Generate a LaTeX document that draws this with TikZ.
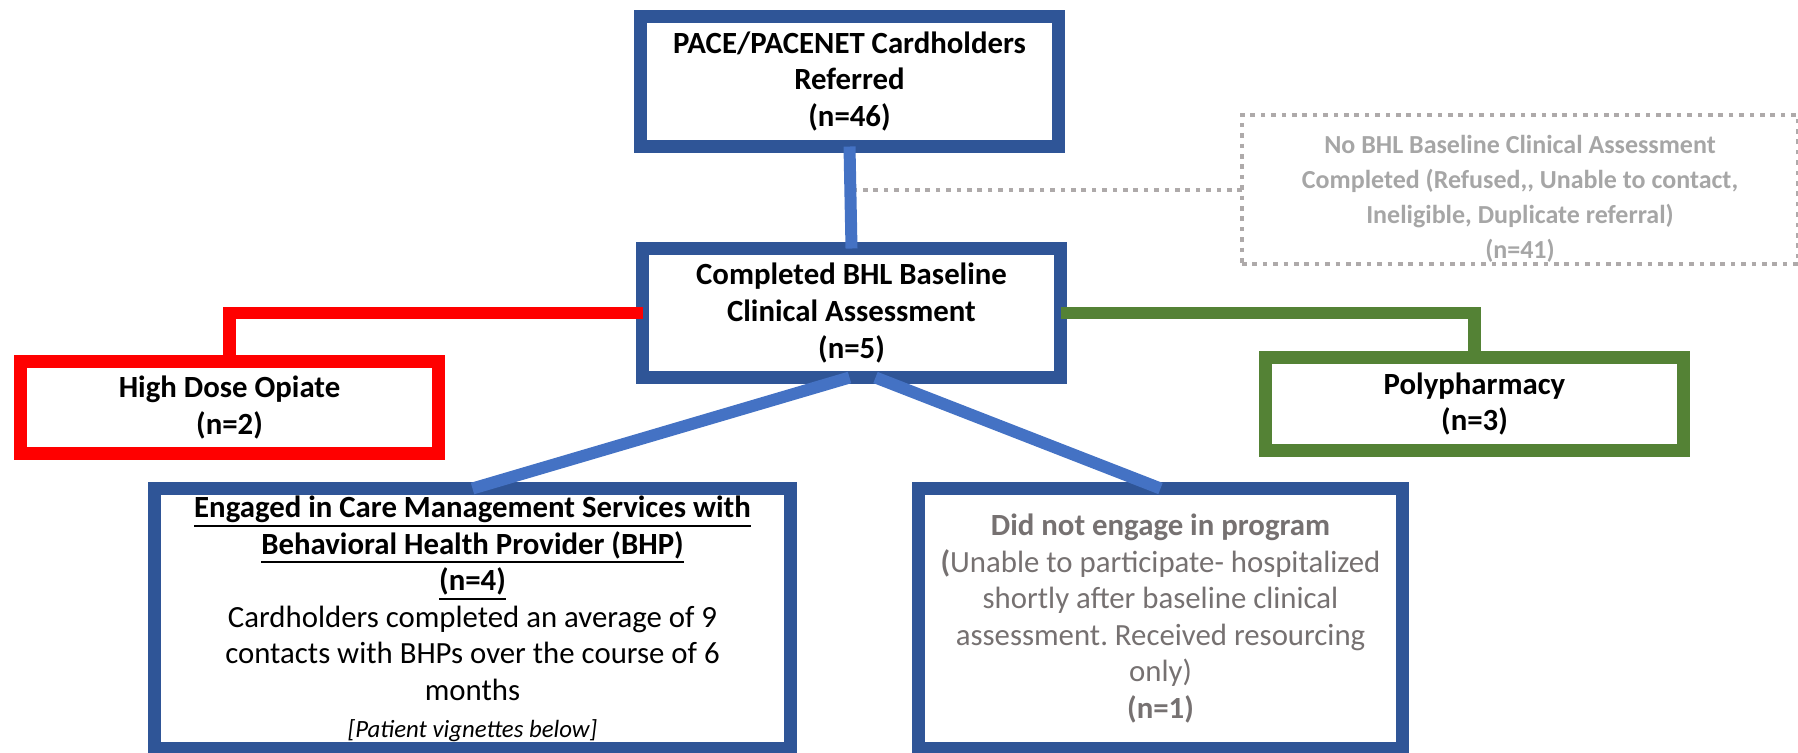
\documentclass[tikz,border=0pt]{standalone}
\usepackage{fontspec}
\setmainfont{Carlito}
\frenchspacing
\usetikzlibrary{
  calc,
  positioning
}
\definecolor{boxblue}{RGB}{47,85,151}
\definecolor{linkblue}{RGB}{68,114,196}
\definecolor{opiatered}{RGB}{255,0,0}
\definecolor{polygreen}{RGB}{84,130,53}
\definecolor{dotgray}{RGB}{174,170,170}
\definecolor{softtext}{RGB}{166,166,166}
\definecolor{greytext}{RGB}{118,113,113}
\newcommand{\ulbox}[1]{\setbox0=\hbox{#1}\vtop{\copy0\kern1.2pt\hrule height 1.2pt}}
\tikzset{
  stagebox/.style={
    draw=boxblue,
    line width=6.5pt,
    fill=white,
    align=center,
    outer sep=0pt,
    inner sep=0pt,
    minimum width=209pt,
    font=\fontsize{15.4}{18.3}\selectfont\bfseries
  },
  red box/.style={stagebox,draw=opiatered,minimum height=46pt},
  green box/.style={stagebox,draw=polygreen,minimum height=46.5pt},
  wide box/.style={stagebox,minimum height=130pt,font=\fontsize{15.4}{18.3}\selectfont},
  dotted box/.style={
    draw=dotgray,
    line width=2pt,
    dash pattern=on 2.3pt off 2.9pt,
    align=center,
    outer sep=0pt,
    inner sep=0pt,
    text=softtext,
    font=\fontsize{13}{17.5}\selectfont\bfseries
  },
  link/.style={line width=6pt,draw=linkblue},
  red link/.style={line width=6.3pt,draw=opiatered},
  green link/.style={line width=6.3pt,draw=polygreen},
  dotted link/.style={line width=2pt,draw=dotgray,dash pattern=on 2.3pt off 2.9pt}
}

\begin{document}
\begin{tikzpicture}[x=0.5pt,y=-0.5pt]
  \clip (0,0) rectangle (1798,752);

  \node[stagebox,minimum height=65pt] (referred) at (849.5,81.5)
    {PACE/PACENET Cardholders\\Referred\\(n=46)};
  \node[stagebox,minimum height=64.5pt] (completed) at (851.5,313)
    {Completed BHL Baseline\\Clinical Assessment\\(n=5)};
  \node[dotted box,minimum width=278pt,minimum height=74.5pt] (nobhl) at (1520,189.5)
    {\rule{0pt}{18.5pt}No BHL Baseline Clinical Assessment\\Completed (Refused,{}, Unable to contact,\\Ineligible, Duplicate referral)\\(n=41)};

  \node[red box] (opiate) at (229.5,407.5) {High Dose Opiate\\(n=2)};
  \node[green box] (poly) at (1474.5,404) {Polypharmacy\\(n=3)};

  \node[wide box,minimum width=318pt] (engaged) at (472.5,618.5) {
    \ulbox{\textbf{Engaged in Care Management Services with}}\\
    \ulbox{\textbf{Behavioral Health Provider (BHP)}}\\
    \ulbox{\textbf{(n=4)}}\\
    Cardholders completed an average of 9\\
    contacts with BHPs over the course of 6\\
    months\\
    {\fontsize{12.4}{14}\selectfont\itshape [Patient vignettes below]}
  };
  \node[wide box,minimum width=242pt,text=greytext] (noengage) at (1160.5,618.5) {
    \textbf{Did not engage in program}\\
    \textbf{(}Unable to participate- hospitalized\\
    shortly after baseline clinical\\
    assessment. Received resourcing\\
    only)\\
    \textbf{(n=1)}
  };

  % connectors on top of the borders
  \draw[dotted link] (nobhl.west) -- (nobhl.west -| referred.south);
  \draw[link] (referred.south) -- (completed.north);
  \draw[red link] (completed.west) -| (opiate.north);
  \draw[green link] (completed.east) -| (poly.north);
  \draw[link] ([xshift=-1pt]completed.south) -- (engaged.north);
  \draw[link] ([xshift=12pt]completed.south) -- (noengage.north);
\end{tikzpicture}
\end{document}
